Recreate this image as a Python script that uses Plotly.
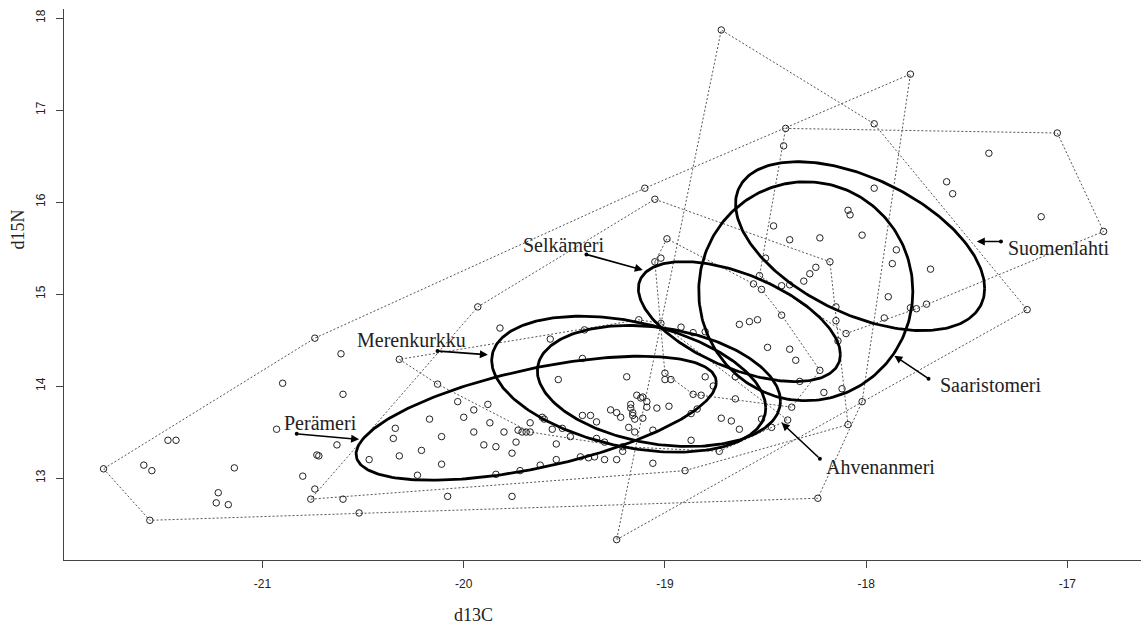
import numpy as np
import plotly.graph_objects as go

# Stable isotope values (d13C, d15N) per sampling area
peramer = [(-21.79, 13.10), (-21.56, 12.54), (-21.59, 13.14), (-21.55, 13.08), (-21.47, 13.41),
           (-21.43, 13.41), (-21.14, 13.11), (-21.22, 12.84), (-21.23, 12.73), (-21.17, 12.71),
           (-20.74, 14.52), (-20.61, 14.35), (-20.90, 14.03), (-20.60, 13.91), (-20.93, 13.53),
           (-20.63, 13.36), (-20.73, 13.25), (-20.72, 13.24), (-20.80, 13.02), (-20.74, 12.88),
           (-20.52, 12.62), (-20.60, 12.77), (-20.47, 13.20), (-20.34, 13.54), (-20.35, 13.43),
           (-20.32, 13.24), (-20.23, 13.03), (-20.21, 13.30), (-20.17, 13.64), (-20.11, 13.45),
           (-20.11, 13.15), (-20.08, 12.80), (-20.03, 13.83), (-20.00, 13.66), (-19.95, 13.74),
           (-19.95, 13.50), (-19.90, 13.36), (-19.88, 13.80), (-19.87, 13.60), (-19.84, 13.34),
           (-19.84, 13.04), (-19.80, 13.50), (-19.76, 13.27), (-19.76, 12.80), (-19.74, 13.39),
           (-19.73, 13.52), (-19.71, 13.50), (-19.72, 13.08), (-19.67, 13.60), (-19.62, 13.14),
           (-19.54, 13.37), (-19.54, 13.20), (-19.47, 13.45), (-19.42, 13.23), (-19.38, 13.22),
           (-19.35, 13.23), (-19.30, 13.20), (-19.24, 13.20), (-19.21, 13.29), (-19.10, 16.15),
           (-17.78, 17.39), (-18.02, 13.83), (-18.24, 12.78)]

merenkurkku = [(-20.76, 12.77), (-19.93, 14.86), (-19.05, 16.03), (-18.18, 15.35), (-19.82, 14.63),
               (-19.57, 14.51), (-19.53, 14.07), (-19.51, 13.54), (-19.41, 14.30), (-19.40, 14.61),
               (-19.37, 13.68), (-19.34, 13.61), (-19.22, 13.66), (-19.19, 14.10), (-19.61, 13.66),
               (-19.69, 13.50), (-19.14, 13.90), (-19.11, 13.88), (-19.00, 14.07), (-18.82, 13.90),
               (-19.09, 13.83), (-19.56, 13.53), (-19.06, 13.16), (-18.90, 13.08), (-18.52, 13.64),
               (-18.09, 13.58)]

ahvenanmeri = [(-20.32, 14.29), (-20.13, 14.02), (-19.67, 13.50), (-19.60, 13.64), (-19.41, 13.68),
               (-19.34, 13.43), (-19.30, 13.39), (-19.27, 13.74), (-19.24, 13.71), (-19.21, 13.34),
               (-19.17, 13.80), (-19.17, 13.76), (-19.16, 13.71), (-19.16, 13.68), (-19.15, 13.64),
               (-19.12, 13.87), (-19.11, 13.65), (-19.09, 13.77), (-19.18, 13.55), (-19.15, 13.50),
               (-19.06, 13.52), (-19.04, 13.76), (-18.98, 13.78), (-18.97, 14.07), (-18.87, 13.70),
               (-18.84, 13.75), (-18.87, 13.41), (-18.73, 13.29), (-18.72, 13.65), (-18.67, 13.62),
               (-18.63, 13.53), (-18.47, 13.55), (-18.39, 13.63), (-19.13, 14.72), (-19.02, 14.68)]

selkameri = [(-18.99, 15.60), (-19.02, 15.39), (-19.05, 15.35), (-18.92, 14.64), (-18.86, 14.58),
             (-18.80, 14.59), (-19.00, 14.14), (-18.80, 14.10), (-18.76, 14.00), (-18.65, 14.10),
             (-18.65, 13.86), (-18.86, 13.91), (-18.63, 14.67), (-18.58, 14.70), (-18.54, 14.72),
             (-18.49, 14.42), (-18.38, 14.40), (-18.35, 14.28), (-18.37, 13.77), (-18.23, 14.17),
             (-18.42, 14.77), (-18.56, 15.11), (-18.52, 15.05)]

saaristomeri = [(-19.24, 12.33), (-18.72, 17.87), (-17.96, 16.85), (-17.20, 14.83), (-18.33, 14.05),
                (-18.21, 13.93), (-18.15, 14.86), (-18.14, 14.49), (-18.12, 13.97), (-18.08, 15.86),
                (-17.91, 14.74), (-17.89, 14.97), (-17.85, 15.48), (-17.70, 14.89), (-18.28, 15.22),
                (-18.42, 15.09), (-18.46, 15.74), (-18.38, 15.59), (-18.23, 15.61), (-18.41, 16.61)]

suomenlahti = [(-18.40, 16.80), (-17.05, 16.75), (-16.82, 15.68), (-18.50, 15.39), (-18.53, 15.20),
               (-18.38, 15.10), (-18.31, 15.14), (-18.25, 15.29), (-18.15, 14.71), (-18.10, 14.57),
               (-18.09, 15.91), (-18.02, 15.64), (-17.96, 16.15), (-17.87, 15.33), (-17.78, 14.85),
               (-17.75, 14.84), (-17.68, 15.27), (-17.60, 16.22), (-17.57, 16.09), (-17.39, 16.53),
               (-17.13, 15.84)]

# Standard ellipse summaries: mean d13C, mean d15N, SD d13C, SD d15N, correlation
ellipse_mean_x = [-19.64, -19.18, -19.03, -18.63, -18.30, -18.03]
ellipse_mean_y = [13.65, 14.02, 14.00, 14.70, 15.03, 15.52]
ellipse_sd_x = [0.895, 0.681, 0.604, 0.502, 0.532, 0.619]
ellipse_sd_y = [0.674, 0.739, 0.658, 0.652, 1.190, 0.918]
ellipse_rho = [0.58, -0.35, -0.25, -0.55, 0.0, -0.50]

# Area labels: text position, pointer start, pointer end
label_names = ["Perämeri", "Merenkurkku", "Ahvenanmeri", "Selkämeri", "Saaristomeri", "Suomenlahti"]
label_x = [-20.71, -20.26, -17.93, -19.50, -17.38, -17.04]
label_y = [13.60, 14.50, 13.12, 15.53, 14.01, 15.50]
pointer_from_x = [-20.83, -20.13, -18.23, -19.39, -17.69, -17.33]
pointer_from_y = [13.48, 14.38, 13.21, 15.43, 14.08, 15.57]
pointer_to_x = [-20.52, -19.88, -18.42, -19.11, -17.86, -17.45]
pointer_to_y = [13.42, 14.34, 13.60, 15.26, 14.33, 15.57]

x_ticks = [-21, -20, -19, -18, -17]
y_ticks = [13, 14, 15, 16, 17, 18]

groups = [peramer, merenkurkku, ahvenanmeri, selkameri, saaristomeri, suomenlahti]


def convex_hull(pts):
    pts = sorted(set(pts))
    if len(pts) < 3:
        return pts

    def cross(o, a, b):
        return (a[0] - o[0]) * (b[1] - o[1]) - (a[1] - o[1]) * (b[0] - o[0])

    lower, upper = [], []
    for p in pts:
        while len(lower) >= 2 and cross(lower[-2], lower[-1], p) <= 0:
            lower.pop()
        lower.append(p)
    for p in reversed(pts):
        while len(upper) >= 2 and cross(upper[-2], upper[-1], p) <= 0:
            upper.pop()
        upper.append(p)
    return lower[:-1] + upper[:-1]


fig = go.Figure()

# Convex hulls
for pts in groups:
    hull = convex_hull(pts)
    hull = hull + [hull[0]]
    fig.add_trace(go.Scatter(
        x=[p[0] for p in hull], y=[p[1] for p in hull], mode="lines",
        line=dict(color="#555", width=1, dash="2px,2px"), hoverinfo="skip", showlegend=False))

# Individual samples
for pts in groups:
    fig.add_trace(go.Scatter(
        x=[p[0] for p in pts], y=[p[1] for p in pts], mode="markers",
        marker=dict(symbol="circle-open", size=6.5, color="#222", line=dict(width=1)),
        showlegend=False))

# Standard ellipses
t = np.linspace(0, 2 * np.pi, 240)
for mx, my, sx, sy, r in zip(ellipse_mean_x, ellipse_mean_y, ellipse_sd_x, ellipse_sd_y, ellipse_rho):
    ex = mx + sx * np.cos(t)
    ey = my + sy * (r * np.cos(t) + np.sqrt(1 - r * r) * np.sin(t))
    fig.add_trace(go.Scatter(x=ex, y=ey, mode="lines", line=dict(color="#000", width=2.8),
                             hoverinfo="skip", showlegend=False))

# Pointer start dots
fig.add_trace(go.Scatter(x=pointer_from_x, y=pointer_from_y, mode="markers",
                         marker=dict(size=4, color="#000"), showlegend=False))

annotations = []
for name, lx, ly, fx, fy, tx, ty in zip(label_names, label_x, label_y, pointer_from_x,
                                        pointer_from_y, pointer_to_x, pointer_to_y):
    annotations.append(dict(x=tx, y=ty, ax=fx, ay=fy, xref="x", yref="y", axref="x", ayref="y",
                            text="", showarrow=True, arrowhead=2, arrowsize=1, arrowwidth=1.6,
                            arrowcolor="#000"))
    annotations.append(dict(x=lx, y=ly, xref="x", yref="y", text=name, showarrow=False,
                            font=dict(family="Liberation Serif", size=20, color="#222")))

annotations.append(dict(x=0.38, y=-0.1, xref="paper", yref="paper", text="d13C", showarrow=False,
                        xanchor="center", yanchor="middle",
                        font=dict(family="Liberation Serif", size=18, color="#222")))
annotations.append(dict(x=-0.0427, y=0.6, xref="paper", yref="paper", text="d15N", showarrow=False,
                        xanchor="center", yanchor="middle", textangle=-90,
                        font=dict(family="Liberation Serif", size=18, color="#222")))

fig.update_layout(
    width=1144, height=629,
    margin=dict(l=64, r=3, t=9, b=69),
    paper_bgcolor="white", plot_bgcolor="white",
    annotations=annotations,
    xaxis=dict(range=[-21.9866, -16.634], tickvals=x_ticks, ticktext=[str(v) for v in x_ticks],
               showline=True, linecolor="#444", linewidth=1, ticks="outside", ticklen=7,
               tickcolor="#444", showgrid=False, zeroline=False, ticklabelstandoff=6,
               tickfont=dict(family="Liberation Sans", size=12, color="#222")),
    yaxis=dict(range=[12.1087, 18.098], tickvals=y_ticks, ticktext=[str(v) for v in y_ticks],
               showline=True, linecolor="#444", linewidth=1, ticks="outside", ticklen=7,
               tickcolor="#444", showgrid=False, zeroline=False, tickangle=-90,
               ticklabelstandoff=6,
               tickfont=dict(family="Liberation Sans", size=12, color="#222")),
)

fig.write_html("out.html")
